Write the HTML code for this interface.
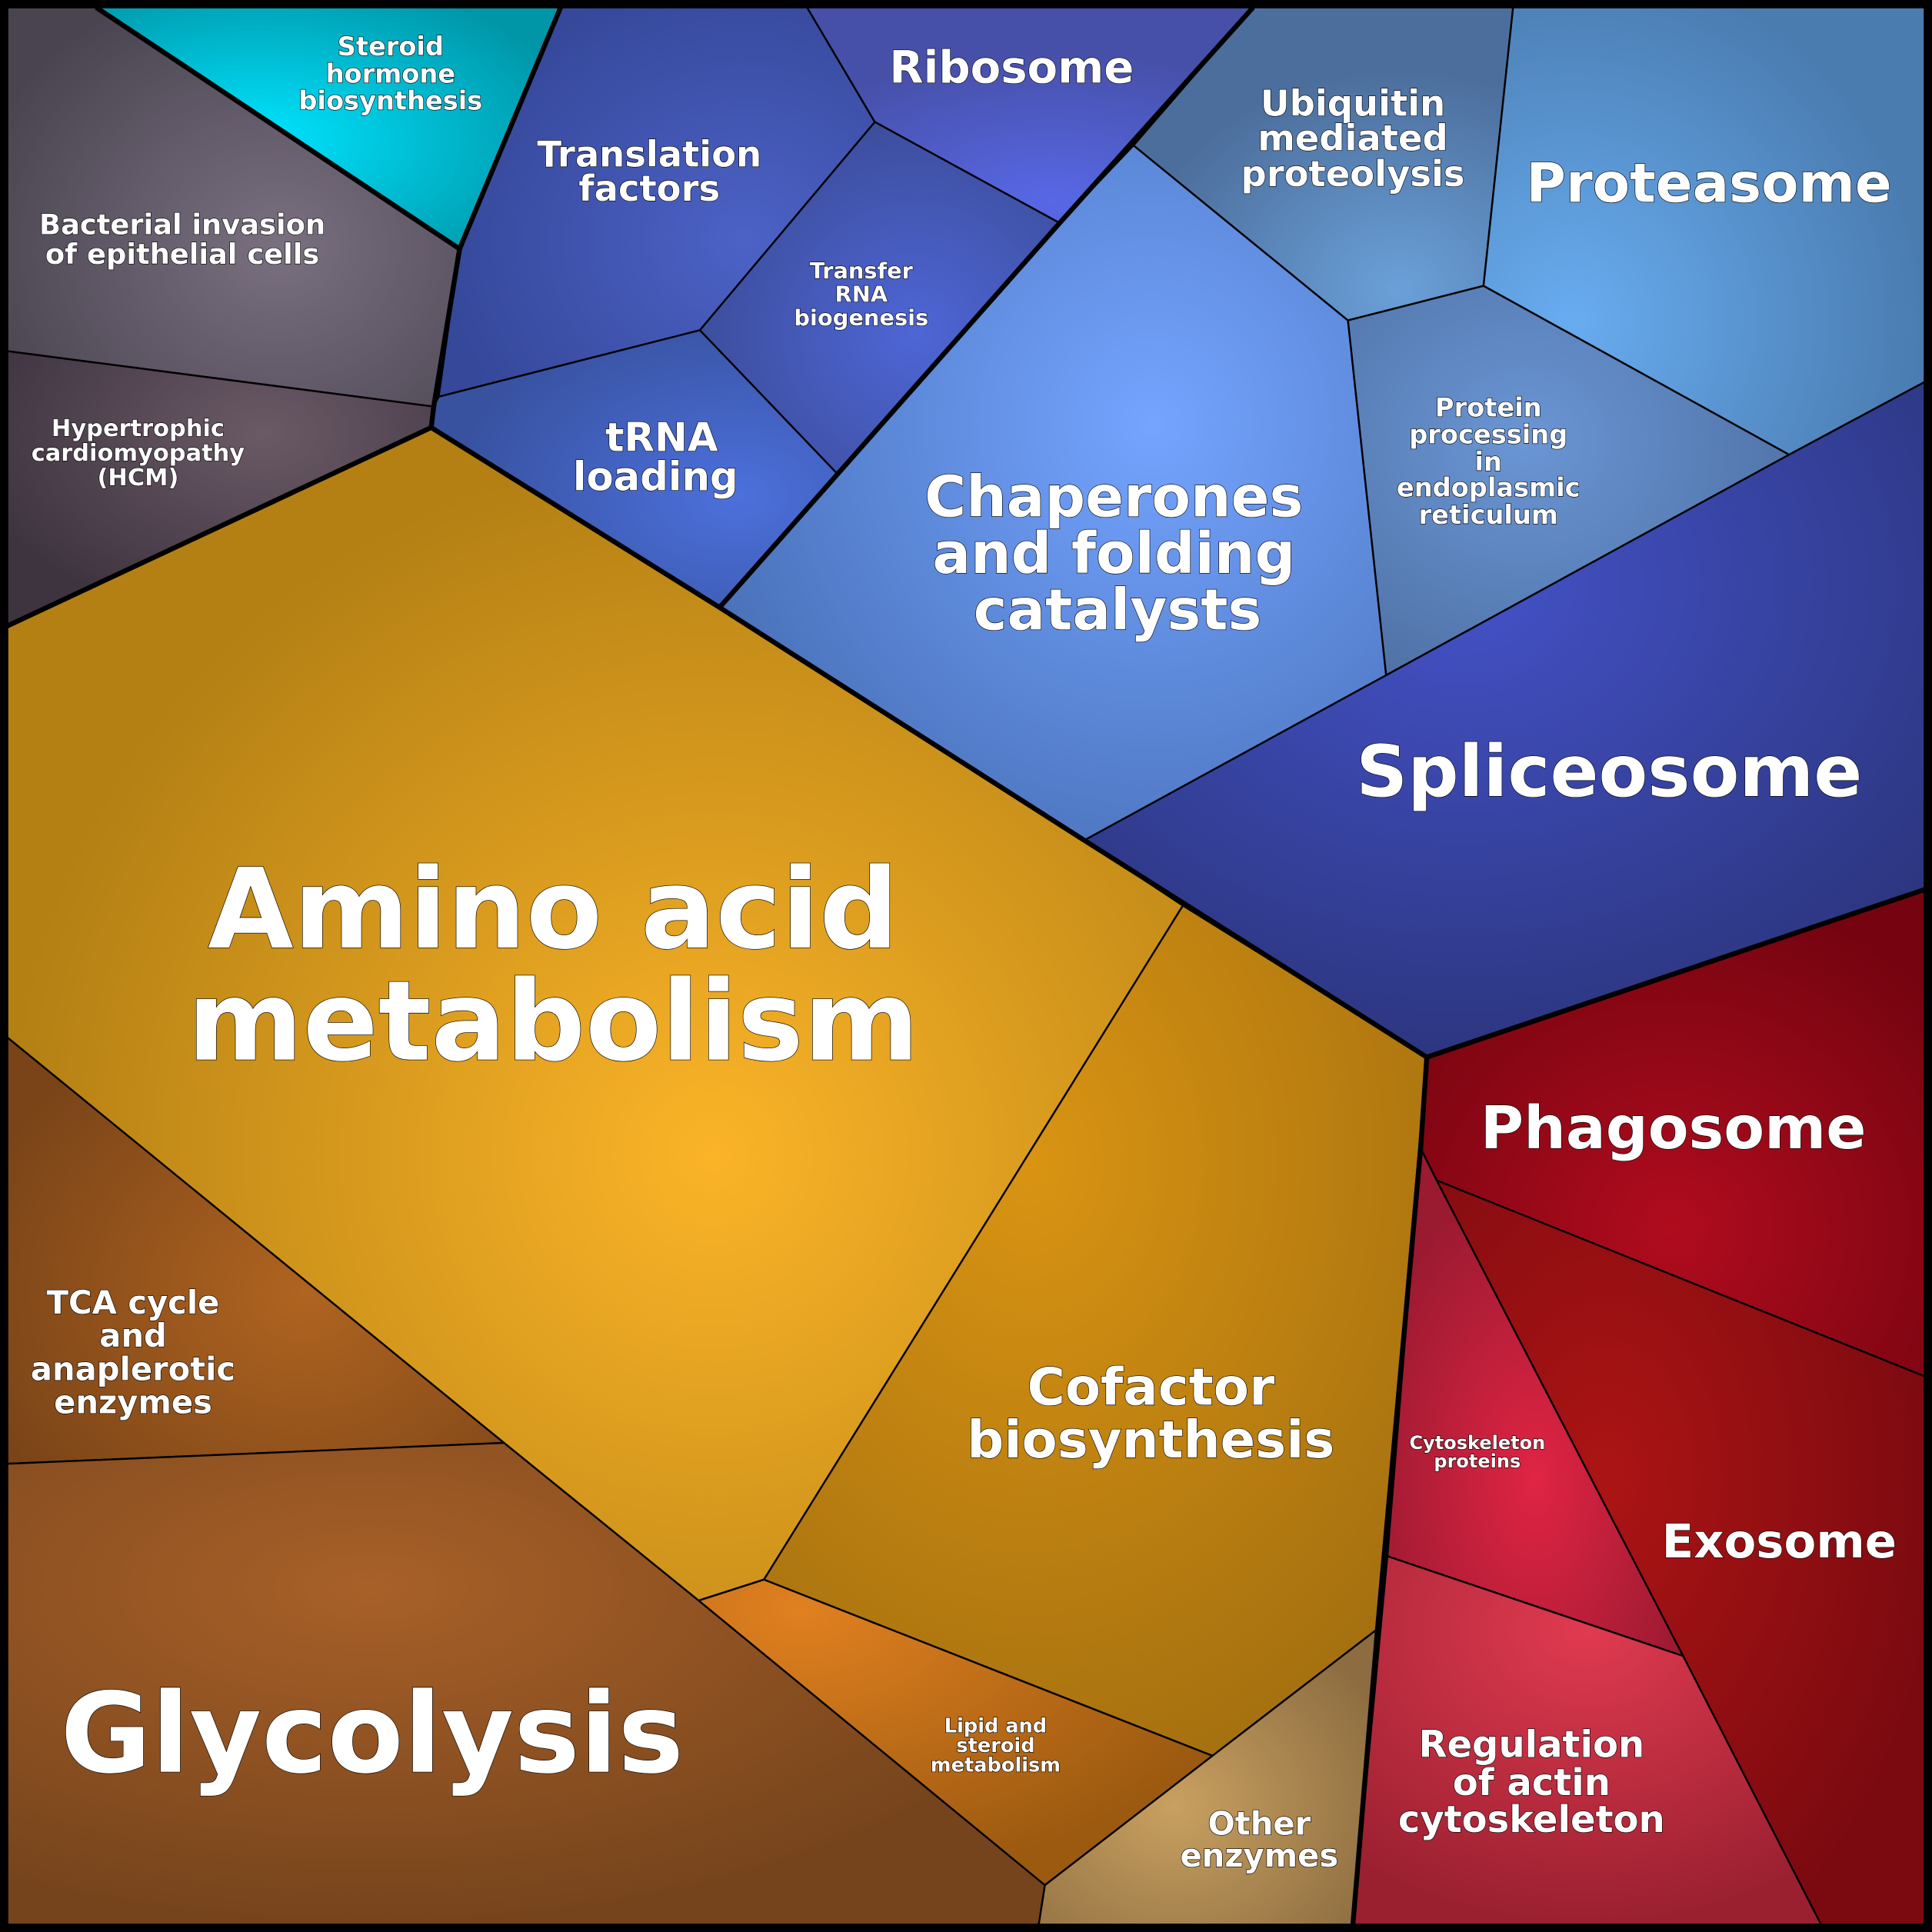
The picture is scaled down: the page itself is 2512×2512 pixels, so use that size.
<!DOCTYPE html>
<html><head><meta charset="utf-8"><style>
html,body{margin:0;padding:0;background:#000;}
svg{display:block;}
text{font-family:"DejaVu Sans","Liberation Sans",sans-serif;font-weight:bold;fill:#fff;stroke:#000;stroke-width:0.8;paint-order:stroke;text-anchor:middle;}
</style></head><body>
<svg width="2512" height="2512" viewBox="0 0 1568 1568" xmlns="http://www.w3.org/2000/svg">
<defs>
<radialGradient id="gSter" cx="0.35" cy="0.55" r="0.7"><stop offset="0" stop-color="#00e4ff"/><stop offset="1" stop-color="#0096a8"/></radialGradient>
<radialGradient id="gBact" cx="0.6" cy="0.6" r="0.7"><stop offset="0" stop-color="#7a7080"/><stop offset="1" stop-color="#4a4450"/></radialGradient>
<radialGradient id="gHcm" cx="0.6" cy="0.3" r="0.7"><stop offset="0" stop-color="#6a5a66"/><stop offset="1" stop-color="#3e3440"/></radialGradient>
<radialGradient id="gTrans" cx="0.7" cy="0.6" r="0.7"><stop offset="0" stop-color="#4c62c6"/><stop offset="1" stop-color="#35489a"/></radialGradient>
<radialGradient id="gRibo" cx="0.55" cy="0.9" r="0.7"><stop offset="0" stop-color="#5868e6"/><stop offset="1" stop-color="#4650a8"/></radialGradient>
<radialGradient id="gTrna" cx="0.6" cy="0.6" r="0.7"><stop offset="0" stop-color="#4e66d6"/><stop offset="1" stop-color="#3a4a94"/></radialGradient>
<radialGradient id="gLoad" cx="0.75" cy="0.6" r="0.7"><stop offset="0" stop-color="#4c70dc"/><stop offset="1" stop-color="#3852a0"/></radialGradient>
<radialGradient id="gChap" cx="0.65" cy="0.4" r="0.7"><stop offset="0" stop-color="#74a4ff"/><stop offset="1" stop-color="#4a72ba"/></radialGradient>
<radialGradient id="gUbi" cx="0.7" cy="0.9" r="0.7"><stop offset="0" stop-color="#6aa0d8"/><stop offset="1" stop-color="#4c6e9c"/></radialGradient>
<radialGradient id="gProt" cx="0.2" cy="0.7" r="0.8"><stop offset="0" stop-color="#68acf0"/><stop offset="1" stop-color="#4a7cb0"/></radialGradient>
<radialGradient id="gPp" cx="0.4" cy="0.4" r="0.7"><stop offset="0" stop-color="#6a96d4"/><stop offset="1" stop-color="#4e70a4"/></radialGradient>
<radialGradient id="gSpl" cx="0.45" cy="0.3" r="0.7"><stop offset="0" stop-color="#4452c8"/><stop offset="1" stop-color="#2c3680"/></radialGradient>
<radialGradient id="gAmino" cx="0.6" cy="0.62" r="0.6"><stop offset="0" stop-color="#fbb428"/><stop offset="1" stop-color="#b48014"/></radialGradient>
<radialGradient id="gCof" cx="0.4" cy="0.3" r="0.8"><stop offset="0" stop-color="#d99412"/><stop offset="1" stop-color="#a26e10"/></radialGradient>
<radialGradient id="gLip" cx="0.2" cy="0.1" r="0.9"><stop offset="0" stop-color="#e08020"/><stop offset="1" stop-color="#9c5a10"/></radialGradient>
<radialGradient id="gOther" cx="0.4" cy="0.6" r="0.7"><stop offset="0" stop-color="#c8a060"/><stop offset="1" stop-color="#8c6c40"/></radialGradient>
<radialGradient id="gTca" cx="0.6" cy="0.6" r="0.7"><stop offset="0" stop-color="#b06420"/><stop offset="1" stop-color="#7a4418"/></radialGradient>
<radialGradient id="gGly" cx="0.35" cy="0.3" r="0.7"><stop offset="0" stop-color="#a86028"/><stop offset="1" stop-color="#76441c"/></radialGradient>
<radialGradient id="gPhag" cx="0.5" cy="0.7" r="0.7"><stop offset="0" stop-color="#b00c1e"/><stop offset="1" stop-color="#760410"/></radialGradient>
<radialGradient id="gExo" cx="0.35" cy="0.4" r="0.7"><stop offset="0" stop-color="#ac1414"/><stop offset="1" stop-color="#7a0a10"/></radialGradient>
<radialGradient id="gCyto" cx="0.5" cy="0.65" r="0.6"><stop offset="0" stop-color="#e02444"/><stop offset="1" stop-color="#9a1a30"/></radialGradient>
<radialGradient id="gReg" cx="0.5" cy="0.2" r="0.8"><stop offset="0" stop-color="#e03a50"/><stop offset="1" stop-color="#9a2030"/></radialGradient>
</defs>
<rect x="0" y="0" width="1568" height="1568" fill="#000"/>
<g stroke="#000" stroke-width="1.5" stroke-linejoin="round">
<polygon fill="url(#gBact)" points="6,6 78,6 373,202 352,330 6,285"/>
<polygon fill="url(#gSter)" points="78,6 455,6 373,202"/>
<polygon fill="url(#gHcm)" points="6,285 352,330 350,347 6,508"/>
<polygon fill="url(#gTrans)" points="373,202 455,6 655,6 710,99 568,268 356,322"/>
<polygon fill="url(#gRibo)" points="655,6 1017,6 920,118 860,181 710,99"/>
<polygon fill="url(#gTrna)" points="710,99 860,181 680,385 568,268"/>
<polygon fill="url(#gLoad)" points="356,322 568,268 680,385 584,493 350,347 352,330"/>
<polygon fill="url(#gChap)" points="860,181 920,118 1094,260 1125,548 880,682 584,493 680,385"/>
<polygon fill="url(#gUbi)" points="1017,6 1228,6 1204,232 1094,260 920,118"/>
<polygon fill="url(#gProt)" points="1228,6 1562,6 1562,310 1452,369 1204,232"/>
<polygon fill="url(#gPp)" points="1094,260 1204,232 1452,369 1125,548"/>
<polygon fill="url(#gSpl)" points="1562,310 1562,722 1158,858 880,682 1125,548 1452,369"/>
<polygon fill="url(#gAmino)" points="350,347 584,493 880,682 960,735 620,1282 567,1299 409,1171 6,842 6,508"/>
<polygon fill="url(#gCof)" points="960,735 1158,858 1118,1322 984,1425 620,1282"/>
<polygon fill="url(#gLip)" points="567,1299 620,1282 984,1425 848,1530"/>
<polygon fill="url(#gOther)" points="848,1530 984,1425 1118,1322 1098,1562 843,1562"/>
<polygon fill="url(#gTca)" points="6,842 409,1171 6,1188"/>
<polygon fill="url(#gGly)" points="6,1188 409,1171 567,1299 848,1530 843,1562 6,1562"/>
<polygon fill="url(#gPhag)" points="1158,858 1562,722 1562,1117 1166,958 1153,932"/>
<polygon fill="url(#gExo)" points="1166,958 1562,1117 1562,1562 1478,1562 1366,1344"/>
<polygon fill="url(#gCyto)" points="1153,932 1166,958 1366,1344 1126,1263"/>
<polygon fill="url(#gReg)" points="1126,1263 1366,1344 1478,1562 1098,1562"/>
</g>
<g fill="none" stroke="#000" stroke-width="4" stroke-linejoin="round">
<polyline points="78,6 373,202 455,6"/>
<polyline points="373,202 352,330 350,347 6,508"/>
<polyline points="350,347 584,493 880,682 1158,858 1562,722"/>
<polyline points="1158,858 1153,932 1118,1322 1098,1562"/>
<polyline points="584,493 860,181 1017,6"/>
<rect x="3" y="3" width="1562" height="1562" stroke-width="6"/>
</g>
<text x="317" y="45" font-size="21">Steroid</text>
<text x="317" y="67" font-size="21">hormone</text>
<text x="317" y="89" font-size="21">biosynthesis</text>
<text x="148" y="190" font-size="23">Bacterial invasion</text>
<text x="148" y="214" font-size="23">of epithelial cells</text>
<text x="112" y="354" font-size="19">Hypertrophic</text>
<text x="112" y="374" font-size="19">cardiomyopathy</text>
<text x="112" y="394" font-size="19">(HCM)</text>
<text x="527" y="135" font-size="29">Translation</text>
<text x="527" y="163" font-size="29">factors</text>
<text x="821" y="67" font-size="36">Ribosome</text>
<text x="699" y="226" font-size="18">Transfer</text>
<text x="699" y="245" font-size="18">RNA</text>
<text x="699" y="264" font-size="18">biogenesis</text>
<text x="537" y="366" font-size="32">tRNA</text>
<text x="532" y="398" font-size="32">loading</text>
<text x="1098" y="94" font-size="29">Ubiquitin</text>
<text x="1098" y="122" font-size="29">mediated</text>
<text x="1098" y="151" font-size="29">proteolysis</text>
<text x="1387" y="164" font-size="44">Proteasome</text>
<text x="904" y="419" font-size="46">Chaperones</text>
<text x="904" y="465" font-size="46">and folding</text>
<text x="907" y="511" font-size="46">catalysts</text>
<text x="1208" y="338" font-size="21">Protein</text>
<text x="1208" y="360" font-size="21">processing</text>
<text x="1208" y="382" font-size="21">in</text>
<text x="1208" y="403" font-size="21">endoplasmic</text>
<text x="1208" y="425" font-size="21">reticulum</text>
<text x="1306" y="646" font-size="58">Spliceosome</text>
<text x="449" y="769" font-size="90">Amino acid</text>
<text x="449" y="860" font-size="90">metabolism</text>
<text x="934" y="1140" font-size="42">Cofactor</text>
<text x="934" y="1183" font-size="42">biosynthesis</text>
<text x="1358" y="932" font-size="48">Phagosome</text>
<text x="108" y="1066" font-size="26">TCA cycle</text>
<text x="108" y="1093" font-size="26">and</text>
<text x="108" y="1120" font-size="26">anaplerotic</text>
<text x="108" y="1147" font-size="26">enzymes</text>
<text x="302" y="1438" font-size="90">Glycolysis</text>
<text x="808" y="1406" font-size="16">Lipid and</text>
<text x="808" y="1422" font-size="16">steroid</text>
<text x="808" y="1438" font-size="16">metabolism</text>
<text x="1022" y="1489" font-size="26">Other</text>
<text x="1022" y="1515" font-size="26">enzymes</text>
<text x="1199" y="1176" font-size="15">Cytoskeleton</text>
<text x="1199" y="1191" font-size="15">proteins</text>
<text x="1444" y="1264" font-size="38">Exosome</text>
<text x="1243" y="1426" font-size="30">Regulation</text>
<text x="1243" y="1457" font-size="30">of actin</text>
<text x="1243" y="1487" font-size="30">cytoskeleton</text>
</svg>
</body></html>
